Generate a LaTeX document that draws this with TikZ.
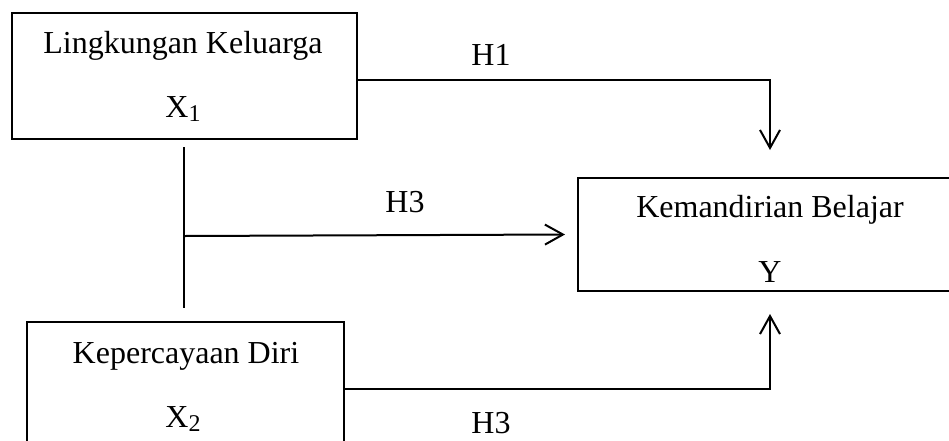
\documentclass[tikz,border=0pt]{standalone}
\usepackage{fontspec}
\setmainfont{Liberation Serif}
\usetikzlibrary{arrows.meta}
\tikzset{
  box/.style={draw, line width=2pt, inner sep=0pt, outer sep=0pt},
  txt/.style={anchor=base, inner sep=0pt, font=\fontsize{32}{38}\selectfont},
  line/.style={line width=2pt},
  arr/.style={line width=2pt, -{Straight Barb[length=18pt,width=20pt,line width=2pt]}},
}
\newcommand{\subn}[1]{\raisebox{-4pt}{\fontsize{24}{24}\selectfont #1}}
\begin{document}
\begin{tikzpicture}[x=1pt,y=-1pt]
\useasboundingbox (0,0) rectangle (949,440);
\clip (0,0) rectangle (949,440);
% boxes
\node[box, minimum width=345pt, minimum height=126pt] (box1) at (184.5,76) {};
\node[box, minimum width=317pt, minimum height=134pt] (box2) at (185.5,389) {};
\node[box, minimum width=384pt, minimum height=113pt] (boxY) at (770,234.5) {};
% texts
\node[txt] (t1a) at (183,53) {Lingkungan Keluarga};
\node[txt] (t1b) at (183,117) {X\subn{1}};
\node[txt] (t2a) at (186,363) {Kepercayaan Diri};
\node[txt] (t2b) at (183,427) {X\subn{2}};
\node[txt] (tYa) at (770,217) {Kemandirian Belajar};
\node[txt] (tYb) at (770,282) {Y};
\node[txt] (h1) at (491,65) {H1};
\node[txt] (h3a) at (405,212) {H3};
\node[txt] (h3b) at (491,433) {H3};
% connectors
\coordinate (j1) at (184,147);
\coordinate (j2) at (184,308);
\coordinate (j3) at (184,236);
\draw[line] (j1) -- (j2);
\draw[arr] ([yshift=-4pt]box1.east) -| ([yshift=28pt]boxY.north);
\draw[arr] (j3) -- ([xshift=-13pt]boxY.west);
\draw[arr] (box2.east) -| ([yshift=-23pt]boxY.south);
\end{tikzpicture}
\end{document}
